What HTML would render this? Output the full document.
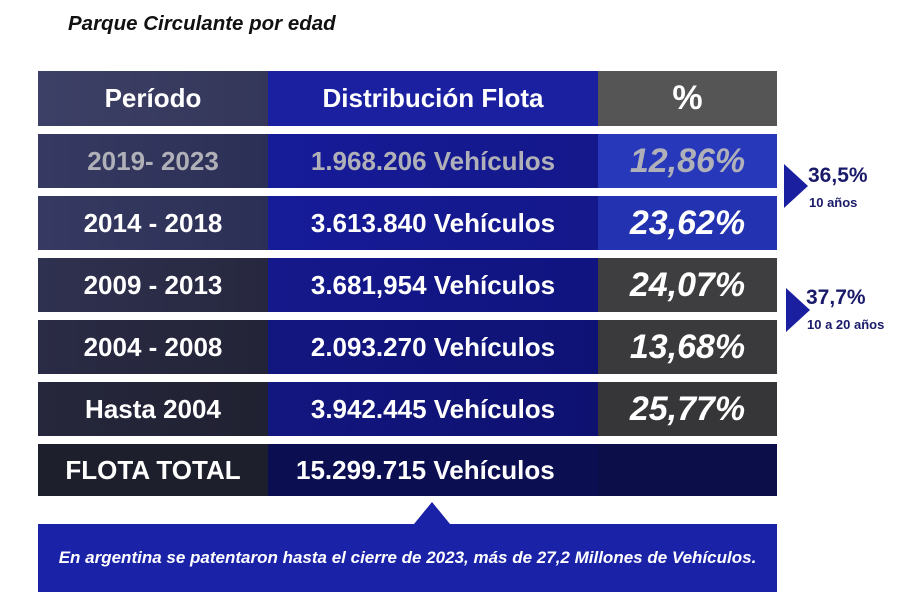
<!DOCTYPE html>
<html><head><meta charset="utf-8"><style>
body{margin:0;width:900px;height:600px;background:#fff;font-family:"Liberation Sans",sans-serif;position:relative;overflow:hidden}
.t{position:absolute;left:68px;top:12px;font-size:20.5px;font-weight:bold;font-style:italic;color:#111}
.r{position:absolute;left:38px;width:739px;display:flex;color:#fff;font-weight:bold}
.r div{display:flex;align-items:center;justify-content:center}
.c1{width:230px;font-size:26px}.c2{width:330px;font-size:26px}.c3{width:179px;font-size:34px;font-style:italic}
.tri{position:absolute;width:0;height:0;border-top:22px solid transparent;border-bottom:22px solid transparent;border-left:24px solid #1a1fa0}
.lab{position:absolute;color:#1a1a6a;font-weight:bold}
</style></head><body>
<div class="t">Parque Circulante por edad</div>
<div class="r" style="top:71px;height:55px"><div class="c1" style="background:linear-gradient(90deg,#3d4066,#343759)">Período</div><div class="c2" style="background:#1a20a0">Distribución Flota</div><div class="c3" style="background:#555;font-style:normal">%</div></div>
<div class="r" style="top:134px;height:54px;color:#b0b0b8"><div class="c1" style="background:linear-gradient(90deg,#363a62,#2c2f55)">2019- 2023</div><div class="c2" style="background:linear-gradient(90deg,#161b98,#14188a)">1.968.206 Vehículos</div><div class="c3" style="background:#2738bb">12,86%</div></div>
<div class="r" style="top:196px;height:54px"><div class="c1" style="background:linear-gradient(90deg,#363a62,#2c2f55)">2014 - 2018</div><div class="c2" style="background:linear-gradient(90deg,#161b98,#14188a)">3.613.840 Vehículos</div><div class="c3" style="background:#2232b0">23,62%</div></div>
<div class="r" style="top:258px;height:54px"><div class="c1" style="background:linear-gradient(90deg,#2f3150,#27283f)">2009 - 2013</div><div class="c2" style="background:linear-gradient(90deg,#14188a,#101480)">3.681,954 Vehículos</div><div class="c3" style="background:#3e3e40">24,07%</div></div>
<div class="r" style="top:320px;height:54px"><div class="c1" style="background:linear-gradient(90deg,#2a2b45,#232437)">2004 - 2008</div><div class="c2" style="background:linear-gradient(90deg,#12167f,#0f1275)">2.093.270 Vehículos</div><div class="c3" style="background:#3a3a3c">13,68%</div></div>
<div class="r" style="top:382px;height:54px"><div class="c1" style="background:linear-gradient(90deg,#26273c,#202131)">Hasta 2004</div><div class="c2" style="background:linear-gradient(90deg,#12167f,#0e1170)">3.942.445 Vehículos</div><div class="c3" style="background:#363638">25,77%</div></div>
<div class="r" style="top:444px;height:52px"><div class="c1" style="background:#1e1f2c">FLOTA TOTAL</div><div class="c2" style="background:#0c0e52;justify-content:flex-start;padding-left:28px;box-sizing:border-box">15.299.715 Vehículos</div><div style="width:179px;background:#0c0e4a"></div></div>
<div style="position:absolute;left:414px;top:502px;width:0;height:0;border-left:18px solid transparent;border-right:18px solid transparent;border-bottom:22px solid #1a22a8"></div>
<div style="position:absolute;left:38px;top:524px;width:739px;height:68px;background:#1a22a8;color:#fff;font-size:17px;font-weight:bold;font-style:italic;display:flex;align-items:center;justify-content:center;white-space:nowrap">En argentina se patentaron hasta el cierre de 2023, más de 27,2 Millones de Vehículos.</div>
<div class="tri" style="left:784px;top:164px"></div>
<div class="lab" style="left:808px;top:164px;font-size:21px">36,5%</div>
<div class="lab" style="left:809px;top:195px;font-size:13px">10 años</div>
<div class="tri" style="left:786px;top:288px"></div>
<div class="lab" style="left:806px;top:286px;font-size:21px">37,7%</div>
<div class="lab" style="left:807px;top:317px;font-size:13px">10 a 20 años</div>
</body></html>
